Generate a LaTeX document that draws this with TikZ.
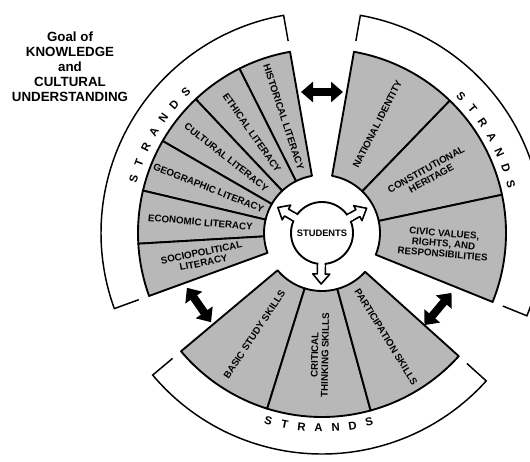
\documentclass[tikz,border=0pt]{standalone}
\usepackage{fontspec}
\setmainfont{Liberation Sans}
\usepackage{tikz}
\usetikzlibrary{arrows.meta, calc}
\definecolor{stipple}{HTML}{B8B8B8}

\begin{document}
\begin{tikzpicture}[
        x=0.75pt, y=0.75pt,
        wedge/.style={draw, line width=1.4pt, fill=stipple, line join=round},
        band/.style={draw, line width=1.1pt},
        strandlabel/.style={align=center, inner sep=0, font=\fontsize{7.3}{7.8}\selectfont\bfseries},
        bandletter/.style={inner sep=0, font=\fontsize{8.5}{8.5}\selectfont\bfseries},
        goaltext/.style={align=center, inner sep=0, font=\fontsize{10}{11.25}\selectfont\bfseries},
        stuarrow/.style={draw, fill=white, line width=1.2pt, line join=round},
        dblarrow/.style={line width=6pt, {Triangle[length=9pt,width=15pt]}-{Triangle[length=9pt,width=15pt]}}
    ]
        \useasboundingbox (-322,-228) rectangle (208,233);

        % title
        \node (goal) [goaltext] at (-252,166) {Goal of\\KNOWLEDGE\\and\\CULTURAL\\UNDERSTANDING};

        % wedges of the three groups
        \foreach \a/\b in {100/116.67, 116.67/133.33, 133.33/150, 150/166.67, 166.67/183.33, 183.33/200,
                           46/80, 12/46, -22/12,
                           220/252.67, 252.67/285.33, 285.33/318}
            \filldraw[wedge] (\a:58) -- (\a:184) arc[start angle=\a, end angle=\b, radius=184]
                -- (\b:58) arc[start angle=\b, end angle=\a, radius=58] -- cycle;

        \foreach \m/\r/\txt [count=\n] in {
                108.33/-71.67/{HISTORICAL LITERACY}, 125/-55/{ETHICAL LITERACY},
                141.67/-38.33/{CULTURAL LITERACY}, 158.33/-21.67/{GEOGRAPHIC LITERACY},
                175/-5/{ECONOMIC LITERACY}, 191.67/11.67/{SOCIOPOLITICAL\\LITERACY},
                63/63/{NATIONAL IDENTITY}, 29/29/{CONSTITUTIONAL\\HERITAGE},
                -5/-5/{CIVIC VALUES,\\RIGHTS, AND\\RESPONSIBILITIES},
                236.33/56.33/{BASIC STUDY SKILLS}, 269/89/{CRITICAL\\THINKING SKILLS},
                301.67/-58.33/{PARTICIPATION SKILLS}}
            \node (strand\n) [strandlabel, rotate=\r] at (\m:122) {\txt};

        % outer bands
        \foreach \a/\b in {100/200, -22/80, 220/318}
            \draw[band] (\a:195) -- (\a:221) arc[start angle=\a, end angle=\b, radius=221] -- (\b:195);

        \foreach \ch [count=\k] in {S,T,R,A,N,D,S} {
            \node (bl\k) [bandletter, rotate={164-5*(\k-1)-90}] at ({164-5*(\k-1)}:196) {\ch};
            \node (br\k) [bandletter, rotate={44.5-5*(\k-1)-90}] at ({44.5-5*(\k-1)}:195) {\ch};
            \node (bb\k) [bandletter, rotate={254+5*(\k-1)+90}] at ({254+5*(\k-1)}:195) {\ch};
        }

        % students in the middle
        \foreach \a in {150,29,269}
            \filldraw[stuarrow, rotate=\a] (24,-4) -- (41,-4) -- (41,-8.5) -- (51,0) -- (41,8.5) -- (41,4) -- (24,4) -- cycle;
        \node (students) [draw, circle, fill=white, line width=1.4pt, minimum size=46.5pt, inner sep=0,
            font=\fontsize{7}{7}\selectfont\bfseries] at (0,0) {STUDENTS};
        \foreach \a in {150,29,269}
            \fill[white, rotate=\a] (28,-3.1) rectangle (34,3.1);

        % arrows between the groups
        \coordinate (gapT) at (0,141);
        \coordinate (gapL) at (-123,-72);
        \coordinate (gapR) at (116,-76);
        \coordinate (tA) at ($(gapT)+(180:21)$);
        \coordinate (tB) at ($(gapT)+(0:21)$);
        \coordinate (lA) at ($(gapL)+(125:21)$);
        \coordinate (lB) at ($(gapL)+(305:21)$);
        \coordinate (rA) at ($(gapR)+(50:21)$);
        \coordinate (rB) at ($(gapR)+(230:21)$);

        \draw [dblarrow] (tA) -- (tB);
        \draw [dblarrow] (lA) -- (lB);
        \draw [dblarrow] (rA) -- (rB);
    \end{tikzpicture}
\end{document}
